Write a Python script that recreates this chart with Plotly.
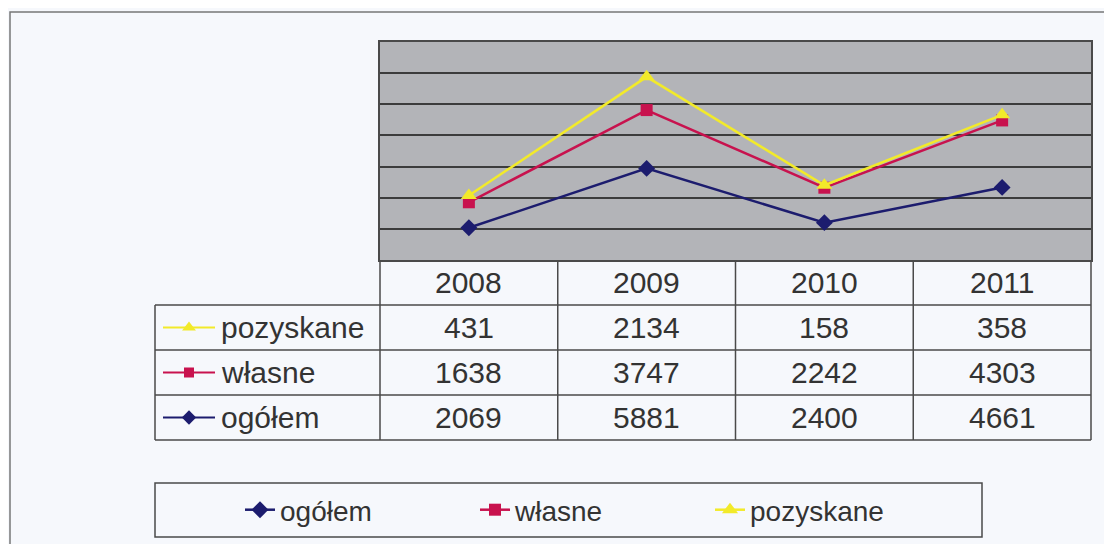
import plotly.graph_objects as go

years = ['2008', '2009', '2010', '2011']
ogolem = [2069, 5881, 2400, 4661]
wlasne = [1638, 3747, 2242, 4303]
pozyskane = [431, 2134, 158, 358]

series_names = ['ogółem', 'własne', 'pozyskane']
table_rows = ['pozyskane', 'własne', 'ogółem']

# the page body has an 8px margin, so the figure is a bit smaller and
# all pixel targets below are screen pixels shifted by OFF
OFF = 8
W, H = 1104, 536
colors = {'ogółem': '#1c1c6e', 'własne': '#c8124e', 'pozyskane': '#f2ea2a'}
symbols = {'ogółem': 'diamond', 'własne': 'square', 'pozyskane': 'triangle-up'}
msizes = {'ogółem': 13, 'własne': 12, 'pozyskane': 14}
values = {'ogółem': ogolem, 'własne': wlasne, 'pozyskane': pozyskane}

# plot area in screen pixels
px_l, px_r, px_t, px_b = 380, 1091, 42, 260
col_w = (px_r - px_l) / len(years)
row_h = 45
lab_l = 155
font = 'Liberation Sans, Arial, sans-serif'
txt_col = '#333333'
line_col = '#4a4a4a'


def fx(x):
    return (x - OFF) / W


def fy(y):
    return 1 - (y - OFF) / H


def label(x, y, text, xanchor='center', size=30):
    return dict(x=fx(x), y=fy(y), xref='paper', yref='paper', xanchor=xanchor, yanchor='middle',
                text=text, showarrow=False, font=dict(size=size, color=txt_col, family=font))


fig = go.Figure()
for name in series_names:
    fig.add_trace(go.Scatter(
        x=years, y=values[name], name=name, stackgroup='one', fill='none',
        mode='lines+markers',
        line=dict(color=colors[name], width=2.5),
        marker=dict(symbol=symbols[name], size=msizes[name], color=colors[name])))

# grey plot area background (plot_bgcolor stays transparent because of the overlay subplot)
shapes = [dict(type='rect', xref='paper', yref='paper', layer='below',
               x0=fx(px_l), x1=fx(px_r), y0=fy(px_b), y1=fy(px_t),
               fillcolor='#b3b4b8', line=dict(width=0))]
annotations = []

# table grid
rows_y = [px_b + row_h * i for i in range(5)]
for y in rows_y[1:]:
    shapes.append(dict(type='line', xref='paper', yref='paper', x0=fx(lab_l), x1=fx(px_r),
                       y0=fy(y), y1=fy(y), line=dict(color=line_col, width=1.5)))
shapes.append(dict(type='line', xref='paper', yref='paper', x0=fx(lab_l), x1=fx(lab_l),
                   y0=fy(rows_y[1]), y1=fy(rows_y[4]), line=dict(color=line_col, width=1.5)))
for j in range(len(years) + 1):
    x = px_l + col_w * j
    shapes.append(dict(type='line', xref='paper', yref='paper', x0=fx(x), x1=fx(x),
                       y0=fy(px_b), y1=fy(rows_y[4]), line=dict(color=line_col, width=1.5)))

# header years
for j, yr in enumerate(years):
    annotations.append(label(px_l + col_w * (j + 0.5), px_b + row_h / 2, yr))

# table body with legend keys
key_x = [163, 215]
for i, name in enumerate(table_rows):
    yc = px_b + row_h * (i + 1.5)
    annotations.append(label(219, yc, name, xanchor='left'))
    for j, v in enumerate(values[name]):
        annotations.append(label(px_l + col_w * (j + 0.5), yc, str(v)))
    fig.add_trace(go.Scatter(
        x=[k - OFF for k in key_x], y=[yc - OFF] * 2, xaxis='x2', yaxis='y2', mode='lines',
        showlegend=False, hoverinfo='skip', line=dict(color=colors[name], width=2)))
    fig.add_trace(go.Scatter(
        x=[(key_x[0] + key_x[1]) / 2 - OFF], y=[yc - OFF], xaxis='x2', yaxis='y2', mode='markers',
        showlegend=False, hoverinfo='skip',
        marker=dict(symbol=symbols[name], size=msizes[name] - 2, color=colors[name])))

# legend box
shapes.append(dict(type='rect', xref='paper', yref='paper', x0=fx(155), x1=fx(982), y0=fy(483), y1=fy(537),
                   line=dict(color=line_col, width=1.5)))
# outer frame
shapes.append(dict(type='rect', xref='paper', yref='paper', x0=fx(10), x1=fx(1130), y0=fy(12), y1=fy(560),
                   line=dict(color='#777777', width=1.5)))

fig.update_layout(
    width=W, height=H, margin=dict(l=0, r=0, t=0, b=0),
    paper_bgcolor='#f6f8fc', plot_bgcolor='rgba(0,0,0,0)',
    font=dict(family=font, size=28, color=txt_col),
    xaxis=dict(domain=[fx(px_l), fx(px_r)], range=[-0.5, 3.5], showticklabels=False, showgrid=False,
               zeroline=False, showline=True, linecolor=line_col, linewidth=1.5, mirror=True, fixedrange=True),
    yaxis=dict(domain=[fy(px_b), fy(px_t)], range=[0, 14000], dtick=2000, showticklabels=False,
               gridcolor='#3c3c3c', gridwidth=2, zeroline=False, showline=True, linecolor=line_col,
               linewidth=1.5, mirror=True, fixedrange=True),
    xaxis2=dict(domain=[0, 1], range=[0, W], visible=False, anchor='y2', fixedrange=True),
    yaxis2=dict(domain=[0, 1], range=[H, 0], visible=False, anchor='x2', fixedrange=True),
    showlegend=True,
    legend=dict(orientation='h', x=fx(240), y=fy(510), xanchor='left', yanchor='middle',
                bgcolor='rgba(0,0,0,0)', borderwidth=0, font=dict(size=28, color=txt_col),
                entrywidthmode='pixels', entrywidth=190, traceorder='normal'),
    shapes=shapes, annotations=annotations,
)

fig.write_html("out.html")
